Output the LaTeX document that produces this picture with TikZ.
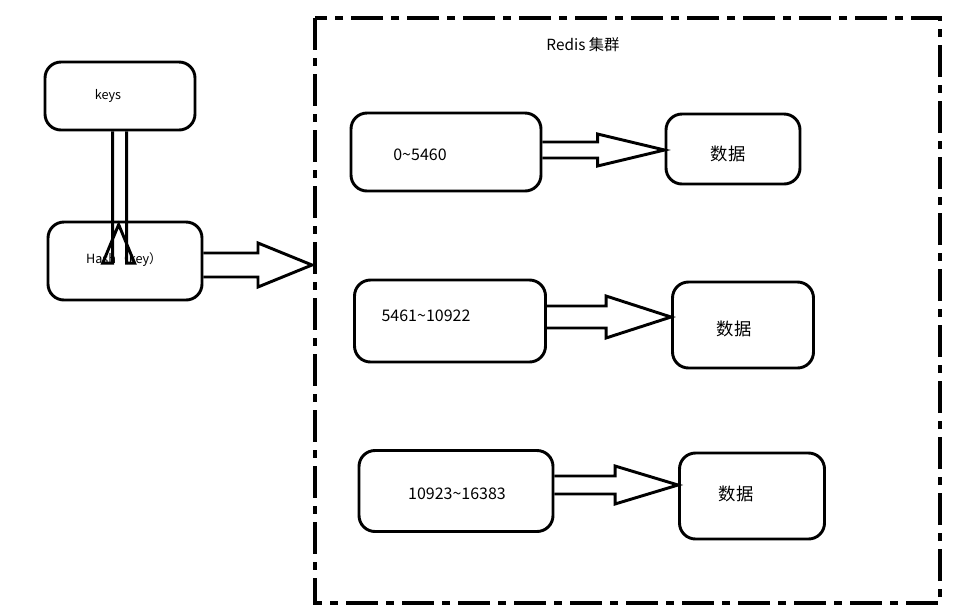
\documentclass[tikz,border=0pt]{standalone}
\usepackage{fontspec}
\setmainfont{Noto Sans CJK SC}
\usetikzlibrary{calc}
\tikzset{every picture/.style={line width=0.75pt}}
\tikzset{
  blk/.style={draw, line width=2.2pt, rounded corners=12pt, inner sep=0pt},
  fat/.style={draw, line width=2.2pt, line join=miter},
}
% hollow arrow from (#1) to (#2) along x, shaft half width #3, head half width #4, head length #5 (px)
\newcommand{\fatright}[5]{%
  \draw[fat] let \p1=(#1), \p2=(#2) in
    (\x1,\y1-#3*0.75) -- (\x2-#5*0.75,\y1-#3*0.75) -- (\x2-#5*0.75,\y1-#4*0.75) -- (\x2,\y1)
    -- (\x2-#5*0.75,\y1+#4*0.75) -- (\x2-#5*0.75,\y1+#3*0.75) -- (\x1,\y1+#3*0.75);}
\begin{document}
\begin{tikzpicture}[x=0.75pt,y=0.75pt,yscale=-1]
\useasboundingbox (0,0) rectangle (957,615);

\draw [line width=2.6pt, dash pattern=on 24pt off 6pt on 6pt off 6pt] (315,18) rectangle (940,603);
\node at (583,45) {\fontsize{11.5}{13}\selectfont Redis 集群};

\node [blk, minimum width=150*0.75pt, minimum height=68*0.75pt] (keys) at (120,96) {};
\node at (108,96) {\fontsize{9.5}{11}\selectfont keys};
\node [blk, minimum width=154*0.75pt, minimum height=78*0.75pt] (hash) at (125,261) {};
\node at (124,260) {\fontsize{9.5}{11}\selectfont Hash（key）};

\node [blk, minimum width=190*0.75pt, minimum height=78*0.75pt] (r1) at (446,152) {};
\node at (420,155) {\fontsize{12}{14}\selectfont 0\textasciitilde 5460};
\node [blk, minimum width=134*0.75pt, minimum height=70*0.75pt] (d1) at (733,149) {};
\node at (728,154) {\fontsize{13}{15}\selectfont 数据};

\node [blk, minimum width=191*0.75pt, minimum height=82*0.75pt] (r2) at (450,321) {};
\node at (426,316) {\fontsize{12}{14}\selectfont 5461\textasciitilde 10922};
\node [blk, minimum width=141*0.75pt, minimum height=86*0.75pt] (d2) at (743,325) {};
\node at (734,329) {\fontsize{13}{15}\selectfont 数据};

\node [blk, minimum width=194*0.75pt, minimum height=81*0.75pt] (r3) at (456,491) {};
\node at (457,494) {\fontsize{12}{14}\selectfont 10923\textasciitilde 16383};
\node [blk, minimum width=145*0.75pt, minimum height=86*0.75pt] (d3) at (752,496) {};
\node at (736,494) {\fontsize{13}{15}\selectfont 数据};

\coordinate (frame) at (312,265);
\coordinate (h1) at (hash.east |- frame);
\coordinate (a1) at ([yshift=-1.5pt]r1.east);
\coordinate (t1) at ([yshift=-1.5pt]d1.west);
\coordinate (a2) at ([yshift=-3pt]r2.east);
\coordinate (t2) at ([yshift=-3pt]d2.west);
\coordinate (a3) at ([yshift=-4.5pt]r3.east);
\coordinate (t3) at ([yshift=-4.5pt]d3.west);

% down arrow keys -> hash
\draw [fat] let \p1=(keys.south), \p2=(hash.north) in
  (\x1-5.5pt,\y1) -- (\x1-5.5pt,\y2+32pt) -- (\x1-13pt,\y2+32pt) -- (\x1-1pt,\y2+3pt)
  -- (\x1+11pt,\y2+32pt) -- (\x1+5pt,\y2+32pt) -- (\x1+5pt,\y1);
\fatright{h1}{frame}{12}{22}{54}
\fatright{a1}{t1}{8}{16}{67}
\fatright{a2}{t2}{11}{21}{65}
\fatright{a3}{t3}{9}{19}{63}

\end{tikzpicture}
\end{document}
